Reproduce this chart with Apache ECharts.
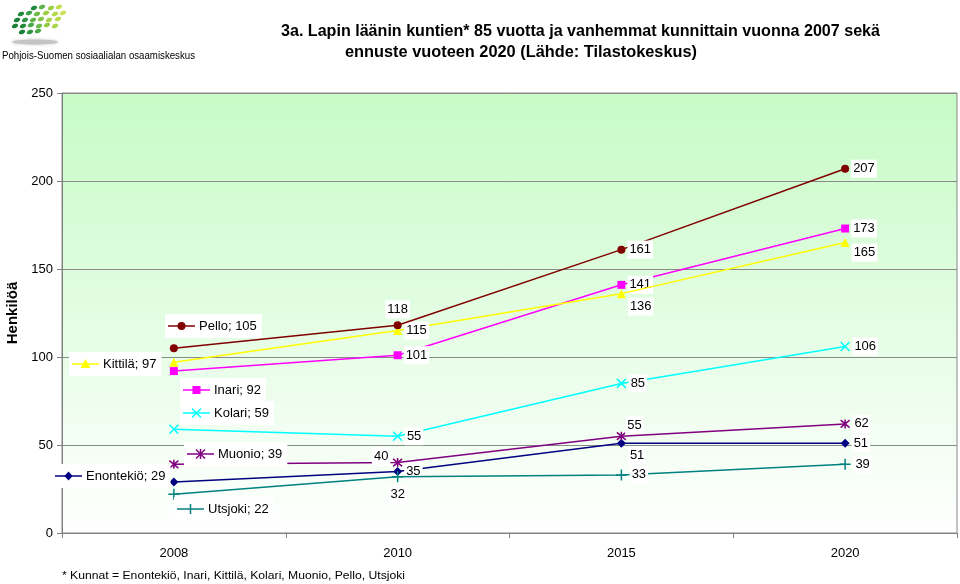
<!DOCTYPE html>
<html><head><meta charset="utf-8">
<script src="https://cdn.jsdelivr.net/npm/echarts@6/dist/echarts.min.js"></script>
<style>html,body{margin:0;padding:0;background:#fff}#c{width:960px;height:584px}</style>
</head><body><div id="c"></div>
<script>
// ---- data ----
const years = ['2008', '2010', '2015', '2020'];
const seriesNames = ['Enontekiö', 'Inari', 'Kittilä', 'Kolari', 'Muonio', 'Pello', 'Utsjoki'];
const enontekio = [29, 35, 51, 51];
const inari = [92, 101, 141, 173];
const kittila = [97, 115, 136, 165];
const kolari = [59, 55, 85, 106];
const muonio = [39, 40, 55, 62];
const pello = [105, 118, 161, 207];
const utsjoki = [22, 32, 33, 39];
const yMin = 0, yMax = 250, yStep = 50;
const titleLine1 = '3a. Lapin läänin kuntien* 85 vuotta ja vanhemmat kunnittain vuonna 2007 sekä';
const titleLine2 = 'ennuste vuoteen 2020 (Lähde: Tilastokeskus)';
const yAxisName = 'Henkilöä';
const footnote = '* Kunnat = Enontekiö, Inari, Kittilä, Kolari, Muonio, Pello, Utsjoki';
const logoText = 'Pohjois-Suomen sosiaalialan osaamiskeskus';

// ---- styles ----
const FONT = '"Liberation Sans", Arial, sans-serif';
const values = [enontekio, inari, kittila, kolari, muonio, pello, utsjoki];
const colors = ['#000080', '#ff00ff', '#ffff00', '#00ffff', '#800080', '#800000', '#008080'];
const markers = ['diamond', 'rect', 'triangle', 'x', 'star', 'circle', 'plus'];
const markerSize = [9, 8, 9, 9, 9, 8, 11];
const symbolMap = {
  diamond: 'diamond', rect: 'rect', triangle: 'triangle', circle: 'circle',
  x: 'path://M0,0L10,10M10,0L0,10',
  star: 'path://M0,0L10,10M10,0L0,10M5,-1L5,11',
  plus: 'path://M0,5L10,5M5,0L5,10'
};
// label placements per point (index 0 uses name key label)
const labelPlace = [
  [null, {p:'right'}, {p:'right', o:[0,12]}, {p:'right'}],
  [null, {p:'right'}, {p:'right'}, {p:'right'}],
  [null, {p:'right'}, {p:'right', o:[0,13]}, {p:'right', o:[0,10]}],
  [null, {p:'right'}, {p:'right'}, {p:'right'}],
  [null, {p:'left', o:[0,-6]}, {p:'top', o:[13,5]}, {p:'right'}],
  [null, {p:'top', o:[0,-1]}, {p:'right'}, {p:'right'}],
  [null, {p:'bottom'}, {p:'right'}, {p:'right'}]
];
// name-key label offsets (key start relative to first point)
const keyOffset = [[-119,-6],[9,19],[-102,2],[9,-16],[13,-10],[-6,-22],[3,15]];

const chart = echarts.init(document.getElementById('c'), null, {renderer: 'canvas'});

const series = seriesNames.map((name, i) => ({
  name: name,
  type: 'line',
  z: 2 + i,
  symbol: symbolMap[markers[i]],
  symbolSize: markerSize[i],
  showAllSymbol: true,
  lineStyle: {color: colors[i], width: 1.5},
  itemStyle: {color: colors[i], borderColor: colors[i],
    borderWidth: (['x','star','plus'].includes(markers[i]) ? 1.5 : 0)},
  emphasis: {disabled: true},
  data: values[i].map((v, j) => {
    const lp = labelPlace[i][j];
    if (!lp) return {value: v, label: {show: false}};
    return {value: v, label: {show: true, position: lp.p, offset: lp.o || [0,0]}};
  }),
  label: {
    show: true, color: '#000', fontSize: 13, fontFamily: FONT,
    backgroundColor: '#fff', padding: [3, 2, 2, 2], distance: 2
  }
}));

function fitScale(text, font, target) {
  const ctx = document.createElement('canvas').getContext('2d');
  ctx.font = font;
  return target / ctx.measureText(text).width;
}

const tFont1 = 'bold 16px "Liberation Sans"';
const logoFont = '11px "Liberation Sans"';
const footFont = '11px "Liberation Sans"';

// logo dots (decoration)
const dots = [
  [34,8,'#1f8a3c'],[42,7,'#5db34a'],[51,8,'#9ccf45'],[59,7,'#c3df52'],
  [21,14,'#1f8a3c'],[29,13,'#3a9e45'],[37,14,'#6cbb4a'],[46,13,'#9ccf45'],[55,14,'#b5d94c'],[63,13,'#cde25a'],
  [17,20,'#1a7f38'],[25,20,'#2f9441'],[33,20,'#5db34a'],[41,19,'#86c54a'],[49,20,'#a8d34a'],[58,19,'#b9db4f'],
  [15,26,'#1a7f38'],[23,26,'#22883b'],[31,25,'#4aa847'],[39,26,'#6cbb4a'],[47,25,'#93ca48'],[55,26,'#a8d34a'],
  [22,32,'#1a7f38'],[30,32,'#2f9441'],[38,31,'#4aa847']
];

chart.setOption({
  animation: false,
  backgroundColor: '#fff',
  grid: {
    left: 62, right: 3, top: 93, bottom: 51, show: true,
    outerBoundsMode: 'none', containLabel: false,
    borderColor: '#888', borderWidth: 1,
    backgroundColor: {type: 'linear', x: 0, y: 0, x2: 0, y2: 1,
      colorStops: [{offset: 0, color: '#c6fbc6'}, {offset: 1, color: '#ffffff'}]}
  },
  xAxis: {
    type: 'category', data: years, boundaryGap: true,
    axisLine: {lineStyle: {color: '#808080'}},
    axisTick: {show: true, length: 5, lineStyle: {color: '#808080'}},
    axisLabel: {color: '#000', fontSize: 13, fontFamily: FONT, margin: 14}
  },
  yAxis: {
    type: 'value', min: yMin, max: yMax, interval: yStep,
    name: yAxisName, nameLocation: 'middle', nameGap: 42, nameRotate: 90,
    nameTextStyle: {color: '#000', fontSize: 15, fontWeight: 'bold', fontFamily: FONT},
    axisLine: {show: true, lineStyle: {color: '#808080'}},
    axisTick: {show: true, length: 5, lineStyle: {color: '#808080'}},
    axisLabel: {color: '#000', fontSize: 13, fontFamily: FONT, margin: 9},
    splitLine: {lineStyle: {color: '#8a8a8a'}}
  },
  series: series
});

const graphics = [];
// title
graphics.push({type: 'text', x: 281, y: 32, scaleX: fitScale(titleLine1, tFont1, 599),
  style: {text: titleLine1, font: tFont1, fill: '#000', verticalAlign: 'middle', align: 'left'}});
graphics.push({type: 'text', x: 345, y: 53, scaleX: fitScale(titleLine2, tFont1, 352),
  style: {text: titleLine2, font: tFont1, fill: '#000', verticalAlign: 'middle', align: 'left'}});
// logo
graphics.push({type: 'ellipse', shape: {cx: 35, cy: 42, rx: 23, ry: 2.5},
  style: {fill: '#c4c4c4', shadowBlur: 3, shadowColor: '#ccc'}});
dots.forEach(d => graphics.push({type: 'ellipse', shape: {cx: 0, cy: 0, rx: 3.3, ry: 2.1},
  x: d[0], y: d[1], rotation: 0.35, style: {fill: d[2]}}));
graphics.push({type: 'text', x: 2, y: 56, scaleX: fitScale(logoText, logoFont, 193),
  style: {text: logoText, font: logoFont, fill: '#000', verticalAlign: 'middle', align: 'left'}});
// footnote
graphics.push({type: 'text', x: 62, y: 576, scaleX: fitScale(footnote, footFont, 343),
  style: {text: footnote, font: footFont, fill: '#000', verticalAlign: 'middle', align: 'left'}});

// name-key labels at first point of each series
function markerShapes(kind, cx, cy, color) {
  const st = {fill: color};
  const sk = {stroke: color, lineWidth: 1.5, fill: null};
  const L = (x1,y1,x2,y2) => ({type: 'line', z: 102, shape: {x1, y1, x2, y2}, style: sk});
  switch (kind) {
    case 'circle': return [{type: 'circle', z: 102, shape: {cx, cy, r: 4}, style: st}];
    case 'rect': return [{type: 'rect', z: 102, shape: {x: cx-4, y: cy-4, width: 8, height: 8}, style: st}];
    case 'triangle': return [{type: 'polygon', z: 102, shape: {points: [[cx, cy-5], [cx+5, cy+4], [cx-5, cy+4]]}, style: st}];
    case 'diamond': return [{type: 'polygon', z: 102, shape: {points: [[cx, cy-4.5], [cx+4, cy], [cx, cy+4.5], [cx-4, cy]]}, style: st}];
    case 'x': return [L(cx-4.5, cy-4.5, cx+4.5, cy+4.5), L(cx+4.5, cy-4.5, cx-4.5, cy+4.5)];
    case 'star': return [L(cx-4.5, cy-4.5, cx+4.5, cy+4.5), L(cx+4.5, cy-4.5, cx-4.5, cy+4.5), L(cx, cy-5, cx, cy+5)];
    case 'plus': return [L(cx, cy-5, cx, cy+5)];
  }
  return [];
}
seriesNames.forEach((name, i) => {
  const p = chart.convertToPixel({seriesIndex: i}, [0, values[i][0]]);
  const kx = Math.round(p[0] + keyOffset[i][0]), ky = Math.round(p[1] + keyOffset[i][1]);
  graphics.push({type: 'text', x: kx - 3, y: ky, z: 100,
    style: {text: name + '; ' + values[i][0], font: '13px "Liberation Sans"', fill: '#000',
      backgroundColor: '#fff', padding: [6, 5, 5, 34], verticalAlign: 'middle', align: 'left'}});
  graphics.push({type: 'line', z: 101, shape: {x1: kx, y1: ky, x2: kx + 27, y2: ky},
    style: {stroke: colors[i], lineWidth: 1.5}});
  markerShapes(markers[i], kx + 13.5, ky, colors[i]).forEach(g => graphics.push(g));
});

chart.setOption({graphic: {elements: graphics}});
</script>
</body></html>
